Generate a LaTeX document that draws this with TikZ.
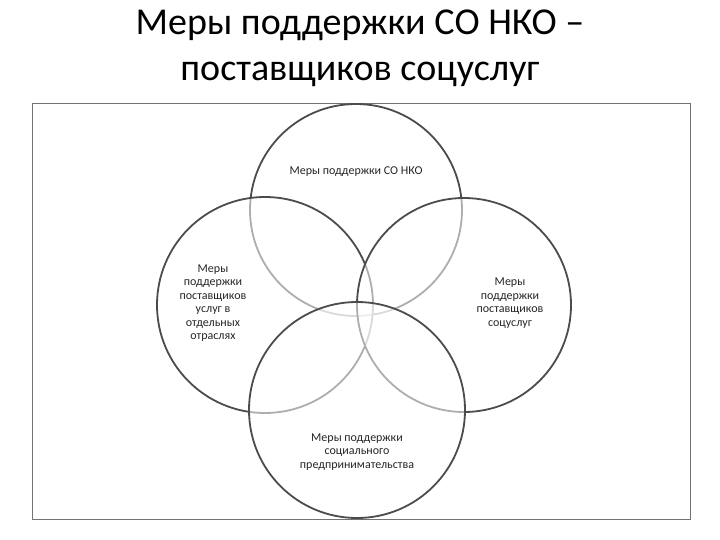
\documentclass[tikz,border=0pt]{standalone}
\usepackage{fontspec}
\setmainfont{Carlito}
\begin{document}
\begin{tikzpicture}[x=1pt,y=-1pt,
  venn/.style={draw=black!70,line width=1.8pt,fill=white,fill opacity=0.55},
  lbl/.style={font=\fontsize{12}{13.5}\selectfont,align=center,text=black!85}]
\useasboundingbox (0,0) rectangle (720,540);
\node[font=\fontsize{38}{46}\selectfont,align=center] (title) at (360,48) {Меры поддержки СО НКО –\\поставщиков соцуслуг};
\draw[black!55,line width=1pt] (32,104) rectangle (690,519);
\path[venn] (356,210) circle (106);
\path[venn] (265,305) circle (108);
\path[venn] (464,305) circle (107);
\path[venn] (357,410) circle (108);
\node[lbl] (a) at (356,172) {Меры поддержки СО НКО};
\node[lbl] (b) at (213,303) {Меры\\поддержки\\поставщиков\\услуг в\\отдельных\\отраслях};
\node[lbl] (c) at (510,303) {Меры\\поддержки\\поставщиков\\соцуслуг};
\node[lbl] (d) at (357,452) {Меры поддержки\\социального\\предпринимательства};
\end{tikzpicture}
\end{document}
